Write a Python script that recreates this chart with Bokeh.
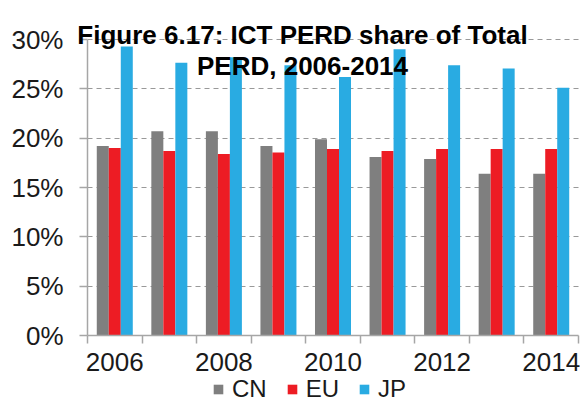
from bokeh.plotting import figure
from bokeh.models import (ColumnDataSource, FixedTicker, PrintfTickFormatter, Range1d,
                          Legend, LegendItem, Label)
from bokeh.transform import dodge
from bokeh.embed import file_html
from bokeh.resources import INLINE

years = [2006, 2007, 2008, 2009, 2010, 2011, 2012, 2013, 2014]
cn = [19.2, 20.7, 20.7, 19.2, 19.9, 18.1, 17.9, 16.4, 16.4]
eu = [19.0, 18.7, 18.4, 18.55, 18.9, 18.7, 18.9, 18.9, 18.9]
jp = [29.3, 27.65, 28.2, 27.4, 26.2, 29.0, 27.4, 27.05, 25.1]
series = ["CN", "EU", "JP"]
colors = ["#7f7f7f", "#ed1c24", "#29abe2"]
year_labels = [2006, 2008, 2010, 2012, 2014]
y_ticks = [0, 5, 10, 15, 20, 25, 30]
title_lines = ["Figure 6.17: ICT PERD share of Total", "PERD, 2006-2014"]

FONT = "Liberation Sans"
TXT = "#1a1a1a"
AX = "#a6a6a6"

# page layout (pixels)
W, H = 580, 403
PLOT_L, PLOT_R, PLOT_T, PLOT_B = 87, 578, 39, 335

x0, x1 = years[0] - 0.5, years[-1] + 0.5
y0, y1 = y_ticks[0], y_ticks[-1]
ppx = (PLOT_R - PLOT_L) / (x1 - x0)
ppy = (PLOT_B - PLOT_T) / (y1 - y0)
xr = Range1d(x0 - PLOT_L / ppx, x1 + (W - PLOT_R) / ppx)
yr = Range1d(y0 - (H - PLOT_B) / ppy, y1 + PLOT_T / ppy)

source = ColumnDataSource(dict(year=years, CN=cn, EU=eu, JP=jp))

p = figure(width=W, height=H, output_backend="svg", toolbar_location=None,
           x_range=xr, y_range=yr)
p.min_border = 0
p.outline_line_color = None
p.background_fill_color = "white"
p.border_fill_color = "white"

renderers = []
offsets = [-0.22, 0.0, 0.22]
for s, c, off in zip(series, colors, offsets):
    r = p.vbar(x=dodge("year", off, range=p.x_range), top=s, width=0.22, bottom=0,
               source=source, fill_color=c, line_color=None)
    renderers.append(r)

# x axis (drawn at y = 0)
xa = p.xaxis[0]
xa.fixed_location = y0
xa.bounds = (x0, x1)
xa.ticker = FixedTicker(ticks=year_labels,
                        minor_ticks=[y - 0.5 for y in years] + [years[-1] + 0.5])
xa.major_tick_line_color = None
xa.major_tick_out = 8
xa.major_tick_in = 0
xa.minor_tick_line_color = AX
xa.minor_tick_out = 8
xa.minor_tick_in = 0
xa.axis_line_color = AX
xa.axis_line_width = 1.5
xa.minor_tick_line_width = 1.5
xa.major_label_standoff = 9
xa.major_label_text_font = FONT
xa.major_label_text_font_size = "26px"
xa.major_label_text_color = TXT

# y axis (drawn at left edge of the first category)
ya = p.yaxis[0]
ya.fixed_location = x0
ya.bounds = (y0, y1)
ya.ticker = FixedTicker(ticks=y_ticks, minor_ticks=[])
ya.formatter = PrintfTickFormatter(format="%d%%")
ya.axis_line_color = AX
ya.axis_line_width = 1.5
ya.major_tick_line_color = AX
ya.major_tick_line_width = 1.5
ya.major_tick_out = 8
ya.major_tick_in = 0
ya.minor_tick_line_color = None
ya.major_label_standoff = 16
ya.major_label_text_font = FONT
ya.major_label_text_font_size = "26px"
ya.major_label_text_color = TXT

p.xgrid.grid_line_color = None
p.ygrid.ticker = FixedTicker(ticks=y_ticks[1:])
p.ygrid.cross_bounds = (x0, x1)
p.ygrid.grid_line_color = "#999999"
p.ygrid.grid_line_dash = "5 4"
p.ygrid.grid_line_width = 1.2

legend = Legend(items=[LegendItem(label=s, renderers=[r]) for s, r in zip(series, renderers)],
                orientation="horizontal", location=(212, 0),
                glyph_width=12, glyph_height=12, label_standoff=8, spacing=19,
                padding=0, margin=0, border_line_color=None, background_fill_alpha=0,
                label_text_font=FONT, label_text_font_size="24px", label_text_color=TXT)
p.add_layout(legend, "center")

TITLE_CX = 302
for line, base in zip(title_lines, [34, 65]):
    p.add_layout(Label(x=TITLE_CX, y=H - base, x_units="screen", y_units="screen", text=line,
                       text_align="center", text_baseline="alphabetic", text_font=FONT,
                       text_font_size="26px", text_font_style="bold", text_color="black"))

open("out.html", "w").write(file_html(p, INLINE))
